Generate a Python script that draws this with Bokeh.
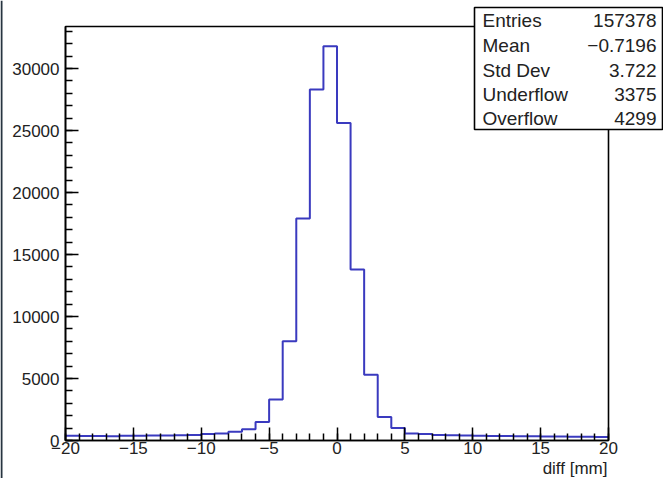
from bokeh.plotting import figure
from bokeh.models import FixedTicker, Range1d, Label, BoxAnnotation
from bokeh.embed import file_html
from bokeh.resources import INLINE

# ---- data ----
bin_edges = list(range(-20, 21))          # 40 bins of width 1 mm
counts = [380, 360, 370, 350, 380, 390, 400, 410, 420, 440,      # -20 .. -10
          520, 560, 700, 900, 1500, 3300, 8000, 17900, 28300, 31800,  # -10 .. 0
          25600, 13800, 5300, 1900, 1000, 560, 520, 450, 420, 400,    # 0 .. 10
          380, 370, 360, 350, 340, 330, 320, 310, 300, 290]           # 10 .. 20

x_tick_values = [-20, -15, -10, -5, 0, 5, 10, 15, 20]
x_tick_labels = ["\u221220", "\u221215", "\u221210", "\u22125", "0", "5", "10", "15", "20"]
x_minor_ticks = list(range(-20, 21))
y_tick_values = [0, 5000, 10000, 15000, 20000, 25000, 30000]
y_tick_labels = ["0", "5000", "10000", "15000", "20000", "25000", "30000"]
y_minor_ticks = list(range(0, 34000, 1000))

stat_names = ["Entries", "Mean", "Std Dev", "Underflow", "Overflow"]
stat_values = ["157378", "\u22120.7196", "3.722", "3375", "4299"]

x_title = "diff [mm]"

# ---- layout (pixels of the 663x478 page) ----
W, H = 663, 478
FL, FR, FT, FB = 65, 608, 26, 440        # ROOT frame edges
FONT = "Liberation Sans"
TXT = "#222222"

x0, x1 = bin_edges[0], bin_edges[-1]
y0, y1 = 0, max(counts) * 1.05
sx = (FR - FL) / (x1 - x0)
sy = (FB - FT) / (y1 - y0)

p = figure(width=W, height=H, title=None,
           x_range=Range1d(x0 - FL / sx, x1 + (W - FR) / sx),
           y_range=Range1d(y0 - (H - FB) / sy, y1 + FT / sy),
           output_backend="svg", toolbar_location=None, min_border=0)
p.grid.visible = False
p.background_fill_color = "white"
p.border_fill_color = "white"
p.outline_line_color = None

# dark strip at the left edge of the screenshot
p.add_layout(BoxAnnotation(left=0, right=2, bottom=0, top=H,
                           left_units="screen", right_units="screen",
                           bottom_units="screen", top_units="screen",
                           fill_color="#273440", fill_alpha=1.0, line_color=None))

# histogram outline
xs = bin_edges
ys = counts + [counts[-1]]
p.step(xs, ys, mode="after", line_color="#3a3abf", line_width=2)

# ROOT frame
p.add_layout(BoxAnnotation(left=x0, right=x1, bottom=y0, top=y1,
                           fill_alpha=0, line_color="black", line_width=1.6,
                           line_alpha=1.0))

for ax in (p.xaxis[0], p.yaxis[0]):
    ax.major_tick_in = 13
    ax.major_tick_out = 0
    ax.minor_tick_in = 7
    ax.minor_tick_out = 0
    ax.axis_line_width = 1.6
    ax.major_tick_line_width = 1.5
    ax.minor_tick_line_width = 1.5
    ax.axis_line_color = "black"
    ax.major_tick_line_color = "black"
    ax.minor_tick_line_color = "black"
    ax.major_label_text_font = FONT
    ax.major_label_text_font_size = "17px"
    ax.major_label_text_color = TXT

p.xaxis.fixed_location = y0
p.xaxis.bounds = (x0, x1)
p.xaxis.ticker = FixedTicker(ticks=x_tick_values, minor_ticks=x_minor_ticks)
p.xaxis.major_label_overrides = {v: l for v, l in zip(x_tick_values, x_tick_labels)}
p.xaxis.major_label_standoff = 1

p.yaxis.fixed_location = x0
p.yaxis.bounds = (y0, y1)
p.yaxis.ticker = FixedTicker(ticks=y_tick_values, minor_ticks=y_minor_ticks)
p.yaxis.major_label_overrides = {v: l for v, l in zip(y_tick_values, y_tick_labels)}
p.yaxis.major_label_standoff = 6

# x-axis title (right aligned, ROOT style)
p.add_layout(Label(x=607, y=H - 468, x_units="screen", y_units="screen",
                   text=x_title, text_align="right", text_baseline="middle",
                   text_font=FONT, text_font_size="17px", text_color=TXT))

# statistics box
p.add_layout(BoxAnnotation(left=474, right=662, bottom=H - 129, top=H - 7,
                           left_units="screen", right_units="screen",
                           bottom_units="screen", top_units="screen",
                           fill_color="white", fill_alpha=1.0,
                           line_color="black", line_width=1.6, line_alpha=1.0))
row_y = [20, 45, 70, 94, 118]
for name, val, yy in zip(stat_names, stat_values, row_y):
    p.add_layout(Label(x=482, y=H - yy, x_units="screen", y_units="screen",
                       text=name, text_align="left", text_baseline="middle",
                       text_font=FONT, text_font_size="19px", text_color=TXT))
    p.add_layout(Label(x=656, y=H - yy, x_units="screen", y_units="screen",
                       text=val, text_align="right", text_baseline="middle",
                       text_font=FONT, text_font_size="19px", text_color=TXT))

open("out.html", "w").write(file_html(p, INLINE))
